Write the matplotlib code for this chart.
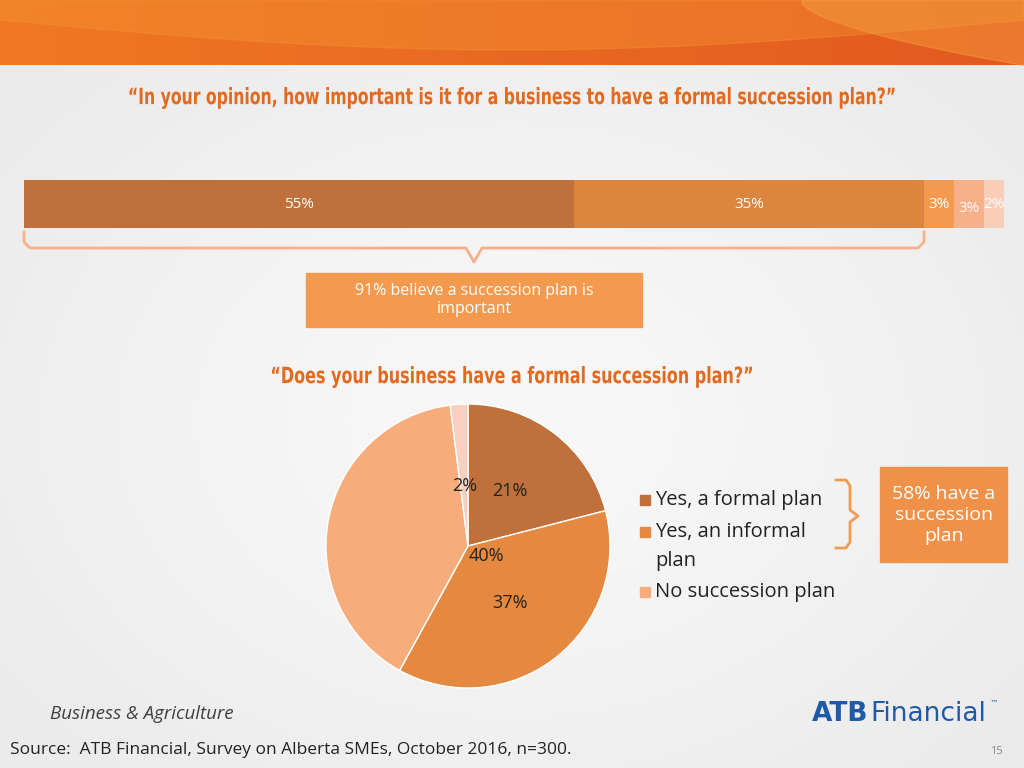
import matplotlib
matplotlib.use("Agg")
import matplotlib.pyplot as plt
import numpy as np
from matplotlib.patches import Rectangle, PathPatch
from matplotlib.textpath import TextPath
from matplotlib.font_manager import FontProperties
from matplotlib.transforms import Affine2D

plt.rcParams['font.family'] = ['Open Sans', 'DejaVu Sans']

bar_values = [55, 35, 3, 3, 2]
bar_labels = ["55%", "35%", "3%", "3%", "2%"]
bar_colors = ["#C0703A", "#DB853F", "#F39A4F", "#F6B08A", "#F9CDB8"]

pie_labels = ["Yes, a formal plan", "Yes, an informal\nplan", "No succession plan", ""]
pie_values = [21, 37, 40, 2]
pie_colors = ["#C0703A", "#E4893F", "#F6AD7B", "#F9CFC0"]
pie_texts = ["21%", "37%", "40%", "2%"]

fig = plt.figure(figsize=(10.24, 7.68), dpi=100)
ax = fig.add_axes([0, 0, 1, 1])
ax.set_xlim(0, 1024); ax.set_ylim(768, 0); ax.axis("off")

yy, xx = np.mgrid[0:768, 0:1024]
bg = 0.90 + 0.07 * np.exp(-(((xx - 512) / 600) ** 2 + ((yy - 420) / 450) ** 2))
ax.imshow(np.dstack([bg, bg, bg]), extent=[0, 1024, 768, 0], zorder=0, aspect="auto")
t = np.linspace(0, 1, 1024)[None, :] * np.ones((65, 1))
c1 = np.array([0.94, 0.47, 0.14]); c2 = np.array([0.89, 0.35, 0.12])
ban = c1[None, None, :] * (1 - t[..., None]) + c2[None, None, :] * t[..., None]
ax.imshow(ban, extent=[0, 1024, 65, 0], zorder=1, aspect="auto")
xs = np.linspace(0, 1024, 300)
ax.fill_between(xs, 0, 20 + 30 * np.sin(xs / 1024 * np.pi), color="#F59A36", alpha=0.35, zorder=2)
m = xs > 800
ax.fill_between(xs[m], 0, 65 * ((xs[m] - 800) / 224) ** 0.6, color="#F6A040", alpha=0.45, zorder=2)


def condensed_title(text, xc, yc, size, width):
    fp = FontProperties(family="DejaVu Sans", weight="bold")
    tp = TextPath((0, 0), text, size=size, prop=fp)
    bb = tp.get_extents()
    sx = width / (bb.x1 - bb.x0)
    tr = Affine2D().translate(-(bb.x0 + bb.x1) / 2, -(bb.y0 + bb.y1) / 2).scale(sx, -1).translate(xc, yc)
    ax.add_patch(PathPatch(tr.transform_path(tp), color="#E2691E", lw=0, zorder=4))


condensed_title("“In your opinion, how important is it for a business to have a formal succession plan?”", 512, 98, 22.5, 765)

left = 24
for v, lab, c in zip(bar_values, bar_labels, bar_colors):
    ax.barh(204, v * 10, left=left, height=48, color=c, zorder=3)
    yoff = 4 if lab == "3%" and left > 950 else 0
    ax.text(left + v * 5, 204 + yoff, lab, ha="center", va="center", color="white", fontsize=11, zorder=4)
    left += v * 10

bc = "#F6B08A"
ax.plot([24, 24, 30, 466, 474, 482, 918, 924, 924], [232, 242, 248, 248, 262, 248, 248, 242, 232], color=bc, lw=2, zorder=3)
ax.add_patch(Rectangle((306, 273), 336, 54, color="#F39A4F", zorder=3))
ax.text(474, 300, "91% believe a succession plan is\nimportant", ha="center", va="center", color="white", fontsize=11.5, zorder=4)

condensed_title("“Does your business have a formal succession plan?”", 512, 377, 22.5, 480)

wedges, _ = ax.pie(pie_values, colors=pie_colors, center=(468, 546), radius=142, startangle=-90,
                   counterclock=True, wedgeprops=dict(edgecolor="white", linewidth=1), frame=True)
ax.set_xlim(0, 1024); ax.set_ylim(768, 0); ax.axis("off"); ax.set_aspect("auto")
for w in wedges: w.set_zorder(3)
for txt, (x, y) in zip(pie_texts, [(510, 491), (510, 603), (486, 556), (465, 486)]):
    ax.text(x, y, txt, ha="center", va="center", fontsize=13, color="#222222", zorder=5)

for c, y in zip(pie_colors[:3], [500, 532, 592]):
    ax.add_patch(Rectangle((640, y - 5), 10, 10, color=c, zorder=4))
ax.text(655, 500, pie_labels[0], va="center", fontsize=14.5, color="#222222")
ax.text(655, 532, "Yes, an informal", va="center", fontsize=14.5, color="#222222")
ax.text(655, 561, "plan", va="center", fontsize=14.5, color="#222222")
ax.text(655, 592, pie_labels[2], va="center", fontsize=14.5, color="#222222")

ax.plot([836, 846, 850, 850, 858, 850, 850, 846, 836], [480, 480, 486, 510, 516, 522, 542, 548, 548],
        color="#F39A4F", lw=2, zorder=3)
ax.add_patch(Rectangle((880, 467), 127, 95, color="#F0914A", zorder=3))
ax.text(944, 515, "58% have a\nsuccession\nplan", ha="center", va="center", color="white", fontsize=14, zorder=4)

ax.text(50, 714, "Business & Agriculture", style="italic", fontsize=13.5, color="#404040", va="center")
ax.text(10, 750, "Source:  ATB Financial, Survey on Alberta SMEs, October 2016, n=300.", fontsize=12.5, color="#222222", va="center")
ax.text(1003, 751, "15", fontsize=8, color="#888888", ha="right", va="center")
ax.text(812, 714, "ATB", fontsize=19, weight="bold", color="#1E5AA8", va="center", family="DejaVu Sans")
ax.text(870, 714, "Financial", fontsize=19, color="#1E5AA8", va="center", family="DejaVu Sans")
ax.text(990, 703, "™", fontsize=6, color="#1E5AA8", va="center", family="DejaVu Sans")

fig.savefig("out.png", dpi=100)
